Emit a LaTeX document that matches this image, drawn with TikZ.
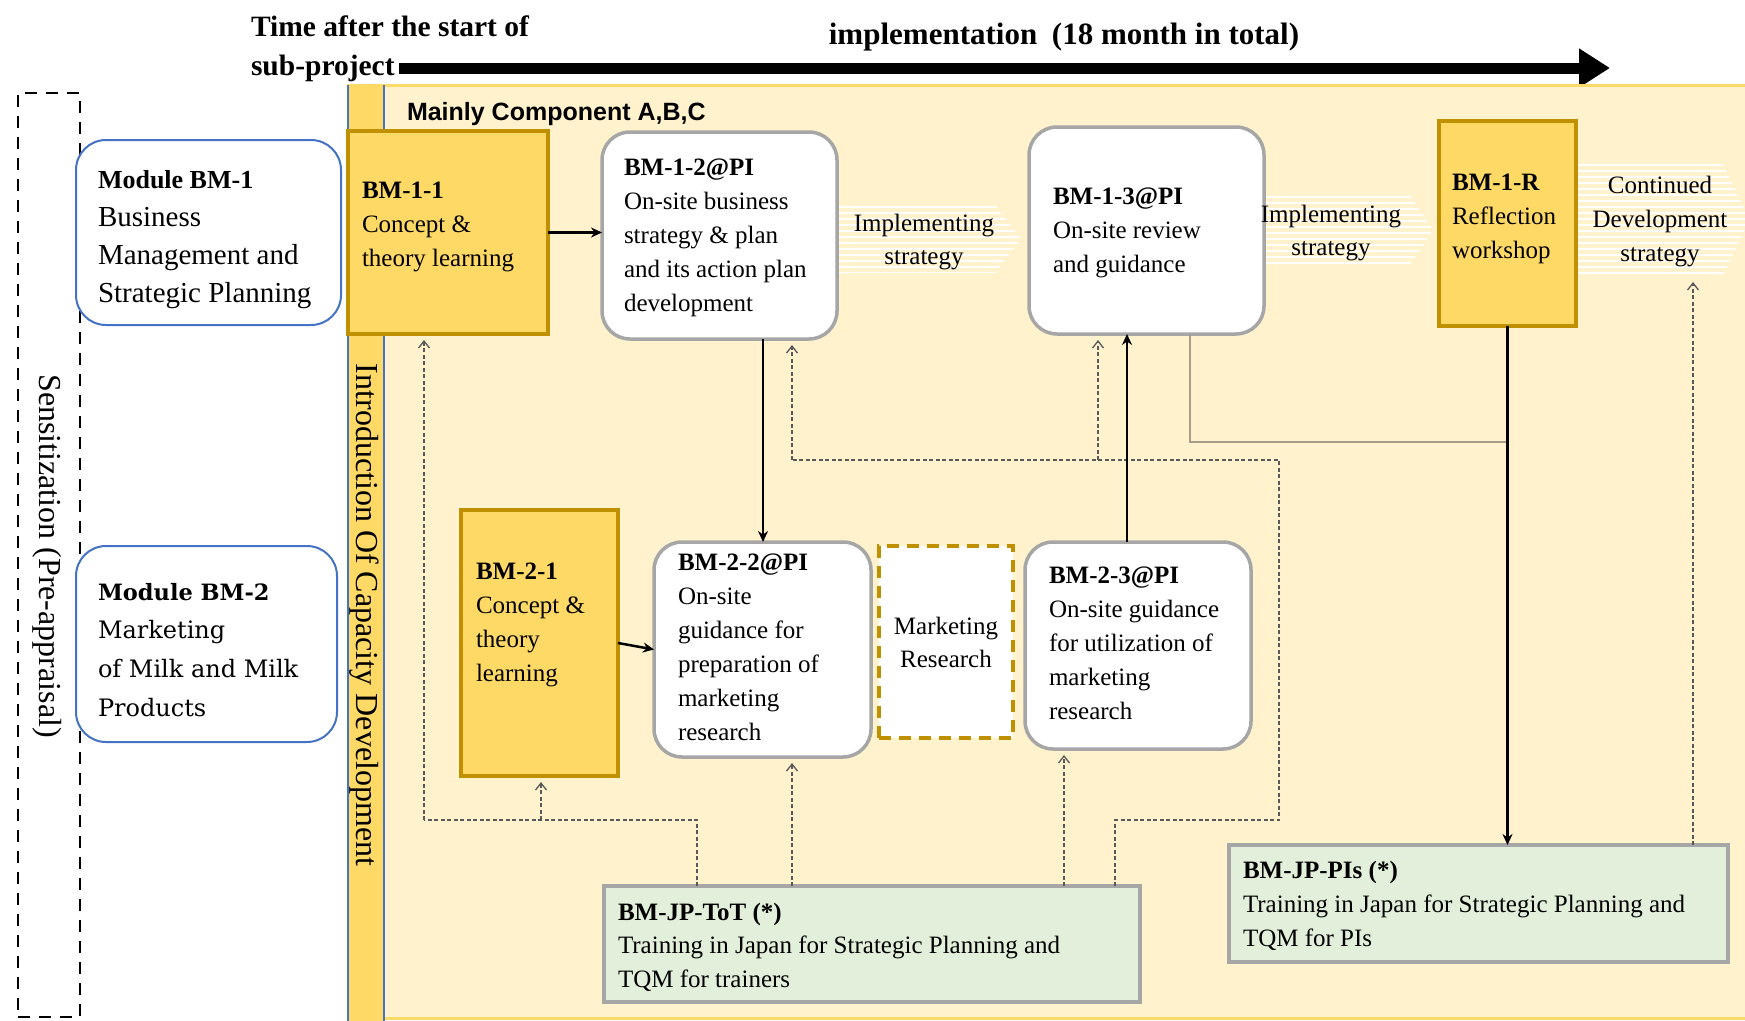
\documentclass[tikz,border=0pt]{standalone}
\usepackage{fontspec}
\setmainfont{Liberation Serif}
\newfontfamily\arialfont{Liberation Sans}
\newfontfamily\wideserif{DejaVu Serif}
\usetikzlibrary{arrows.meta}

\definecolor{goldfill}{HTML}{FFD966}
\definecolor{goldline}{HTML}{BF9000}
\definecolor{paleyellow}{HTML}{FFF2CC}
\definecolor{palegreen}{HTML}{E2EFDA}
\definecolor{boxgray}{HTML}{A6A6A6}
\definecolor{modblue}{HTML}{4472C4}
\definecolor{linkgray}{HTML}{595959}
\definecolor{routegray}{HTML}{A39D8A}

\begin{document}
\begin{tikzpicture}[x=1pt,y=-1pt,
  every node/.style={inner sep=0pt, outer sep=0pt},
  goldbox/.style={draw=goldline, fill=goldfill, line width=3.5pt, anchor=north west},
  sitebox/.style={draw=boxgray, fill=white, line width=3.5pt, rounded corners=28pt, anchor=north west},
  greenbox/.style={draw=boxgray, fill=palegreen, line width=4pt, anchor=north west},
  modbox/.style={draw=modblue, fill=white, line width=2pt, rounded corners=30pt, anchor=north west},
  body/.style={anchor=north west, align=left, font=\fontsize{25}{34}\selectfont},
  striptext/.style={align=center, font=\fontsize{25}{33.5}\selectfont},
  stripe/.style={white, line width=2.8pt},
  link/.style={draw=linkgray, line width=1.3pt, dash pattern=on 4pt off 2.5pt},
  linkarrow/.style={link, -{Straight Barb[length=7pt,width=11pt,line width=1.3pt]}, shorten >=6pt},
  solidarrow/.style={draw=black, line width=2.5pt, -{Stealth[length=11pt,width=10pt]}},
  route/.style={draw=routegray, line width=2.2pt}
]
% canvas
\fill[white] (0,0) rectangle (1745,1020);
\useasboundingbox (0,0) rectangle (1745,1020);

% time line
\node[anchor=west, align=left, font=\bfseries\fontsize{29.5}{39}\selectfont] (timelbl) at (251,49) {Time after the start of\\sub-project};
\node[font=\bfseries\fontsize{31}{36}\selectfont] (impl) at (1064,37) {implementation\hspace{7pt} (18 month in total)};
\coordinate (tstart) at (399,68);
\coordinate (tend) at (1610,68);
\draw[line width=11pt, -{Triangle[length=31pt,width=37pt]}] (tstart) -- (tend);

% sensitization frame
\node[draw=black, line width=2.5pt, dash pattern=on 12pt off 9pt, anchor=north west,
      minimum width=62pt, minimum height=924pt] (sens) at (18,93) {};
\node[rotate=-90, font=\fontsize{32}{36}\selectfont] (senslbl) at (47,556) {Sensitization (Pre-appraisal)};

% main implementation area
\node[draw=goldfill, fill=paleyellow, line width=3pt, anchor=north west,
      minimum width=1420pt, minimum height=933pt] (area) at (348,85) {};
\node[fill=goldfill, anchor=north west, minimum width=36pt, minimum height=936pt] (bar) at (348,85) {};
\draw[modblue, line width=1.2pt] (bar.north west) -- (bar.south west);
\draw[modblue, line width=1.2pt] (bar.north east) -- (bar.south east);
\node[rotate=-90, font=\fontsize{32}{36}\selectfont] (introlbl) at (364,615) {Introduction Of Capacity Development};
\node[anchor=west, font=\arialfont\bfseries\fontsize{25}{28}\selectfont] (mainly) at (407,114) {Mainly Component A,B,C};

% striped strategy bands
\begin{scope}
  \clip (830,205) -- (995,205) -- (1021,239) -- (995,273) -- (830,273) -- cycle;
  \foreach \yy in {207,213,...,273} \draw[stripe] (830,\yy) -- (1025,\yy);
\end{scope}
\begin{scope}
  \clip (1255,195) -- (1410,195) -- (1433,230) -- (1410,265) -- (1255,265) -- cycle;
  \foreach \yy in {197,203,...,265} \draw[stripe] (1255,\yy) -- (1440,\yy);
\end{scope}
\begin{scope}
  \clip (1570,163) -- (1722,163) -- (1750,220) -- (1722,277) -- (1570,277) -- cycle;
  \foreach \yy in {165,171,...,277} \draw[stripe] (1570,\yy) -- (1750,\yy);
\end{scope}

% module boxes
\node[modbox, minimum width=265pt, minimum height=185pt] (m1) at (76,140) {};
\node[anchor=north west, align=left, font=\fontsize{29}{37.8}\selectfont] (m1t) at (98,162.5)
  {\strut{\fontsize{26}{37.8}\selectfont\bfseries Module BM-1}\\Business\\Management and\\Strategic Planning};
\node[modbox, minimum width=261pt, minimum height=196pt] (m2) at (76,546) {};
\node[anchor=north west, align=left, font=\wideserif\fontsize{24}{38.7}\selectfont] (m2t) at (98,573)
  {\strut{\fontsize{22.5}{38.7}\selectfont\bfseries Module BM-2}\\Marketing\\of Milk and Milk\\Products};

% first row
\node[goldbox, minimum width=200pt, minimum height=203pt] (b11) at (348,131) {};
\node[body] (b11t) at (362,175) {\strut\textbf{BM-1-1}\\Concept \&\\theory learning};
\node[sitebox, minimum width=235pt, minimum height=207pt] (b12) at (602,132) {};
\node[body] (b12t) at (624,152) {\strut\textbf{BM-1-2@PI}\\On-site business\\strategy \& plan\\and its action plan\\development};
\node[sitebox, minimum width=235pt, minimum height=207pt] (b13) at (1029,127) {};
\node[body] (b13t) at (1053,181) {\strut\textbf{BM-1-3@PI}\\On-site review\\and guidance};
\node[goldbox, minimum width=137pt, minimum height=205pt] (b1r) at (1439,121) {};
\node[body] (b1rt) at (1452,167) {\strut\textbf{BM-1-R}\\Reflection\\workshop};

% labels on the striped bands
\node[striptext] (imp1) at (924,242) {Implementing\\strategy};
\node[striptext] (imp2) at (1331,233) {Implementing\\strategy};
\node[striptext, font=\fontsize{25}{34}\selectfont] (cont) at (1660,222) {Continued\\Development\\strategy};

% second row
\node[goldbox, minimum width=157pt, minimum height=266pt] (b21) at (461,510) {};
\node[body] (b21t) at (476,556) {\strut\textbf{BM-2-1}\\Concept \&\\theory\\learning};
\node[sitebox, minimum width=217pt, minimum height=215pt] (b22) at (654,542) {};
\node[body] (b22t) at (678,547) {\strut\textbf{BM-2-2@PI}\\On-site\\guidance for\\preparation of\\marketing\\research};
\node[draw=goldline, fill=white, line width=3.5pt, dash pattern=on 12pt off 8pt, anchor=north west,
      minimum width=134pt, minimum height=192pt, align=center, font=\fontsize{25}{33}\selectfont] (mr) at (879,546) {Marketing\\Research};
\node[sitebox, minimum width=226pt, minimum height=207pt] (b23) at (1025,542) {};
\node[body] (b23t) at (1049,560) {\strut\textbf{BM-2-3@PI}\\On-site guidance\\for utilization of\\marketing\\research};

% training in Japan
\node[greenbox, minimum width=536pt, minimum height=116pt] (tot) at (604,886) {};
\node[body, font=\fontsize{25}{33.5}\selectfont] (tott) at (618,897) {\strut\textbf{BM-JP-ToT (*)}\\Training in Japan for Strategic Planning and\\TQM for trainers};
\node[greenbox, minimum width=499pt, minimum height=117pt] (pis) at (1229,845) {};
\node[body] (pist) at (1243,855) {\strut\textbf{BM-JP-PIs (*)}\\Training in Japan for Strategic Planning and\\TQM for PIs};

% bend points of the connectors
\coordinate (d1) at (697,820);
\coordinate (d2) at (424,820);
\coordinate (d3) at (541,820);
\coordinate (d4) at (792,460);
\coordinate (d5) at (1064,820);
\coordinate (e1) at (1115,820);
\coordinate (e2) at (1279,820);
\coordinate (e3) at (1279,460);
\coordinate (e5) at (1098,460);
\coordinate (f1) at (1693,276);
\coordinate (g1) at (763,450);
\coordinate (g2) at (1127,450);
\coordinate (h1) at (1190,442);

% training feedback links
\draw[link] (d1 |- tot.north) -- (d1) -- (d2);
\draw[linkarrow] (d2) -- (d2 |- b11.south);
\draw[linkarrow] (d3) -- (d3 |- b21.south);
\draw[linkarrow] (d4 |- tot.north) -- (d4 |- b22.south);
\draw[linkarrow] (d5 |- tot.north) -- (d5 |- b23.south);
\draw[link] (e1 |- tot.north) -- (e1) -- (e2) -- (e3) -- (d4);
\draw[linkarrow] (d4) -- (d4 |- b12.south);
\draw[linkarrow] (e5) -- (e5 |- b13.south);
\draw[linkarrow] (f1 |- pis.north) -- (f1);

% main flow
\draw[solidarrow] (b11.east) -- (b11.east -| b12.west);
\draw[solidarrow] (g1 |- b12.south) -- (g1 |- b22.north);
\draw[solidarrow] (b21.east) -- (b22.west);
\draw[solidarrow] (g2 |- b23.north) -- (g2 |- b13.south);
\draw[route] (h1 |- b13.south) -- (h1) -- (h1 -| b1r.south);
\draw[solidarrow] (b1r.south) -- (b1r.south |- pis.north);
\end{tikzpicture}
\end{document}
